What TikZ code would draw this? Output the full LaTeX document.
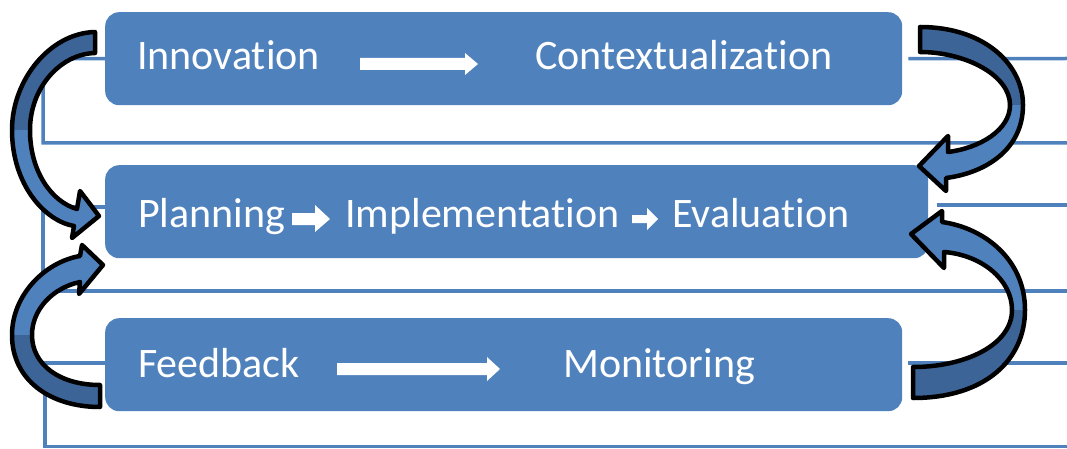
\documentclass[tikz,border=0pt]{standalone}
\usepackage{fontspec}
\setmainfont[Ligatures=NoCommon]{Carlito}
\usetikzlibrary{backgrounds}
\definecolor{obl}{RGB}{79,129,189}
\definecolor{obd}{RGB}{60,100,150}
\begin{document}
\begin{tikzpicture}[x=1pt,y=-1pt,
  box/.style={fill=obl, rounded corners=14pt, minimum height=93pt, inner sep=0pt, anchor=north west},
  lbl/.style={text=white, font=\fontsize{42}{48}\selectfont, inner sep=0pt, anchor=base west},
  rule/.style={draw=obl, line width=3.5pt},
  curv/.style={draw=black, line width=4.5pt, line join=round},
  warr/.style={fill=white}]
\useasboundingbox (0,0) rectangle (1067,449);

% boxes
\node[box, minimum width=797pt] (b1) at (105,12) {};
\node[box, minimum width=823pt] (b2) at (105,165) {};
\node[box, minimum width=797pt] (b3) at (105,318) {};

% bracket lines behind boxes
\begin{pgfonlayer}{background}
\coordinate (l1) at (43,58.5);
\coordinate (e1) at (1067,143);
\coordinate (r1) at (1067,58.5);
\draw[rule] (b1.west) -- (l1) |- (e1);
\draw[rule] (b1.east) ++(6,0) -- (r1);
\coordinate (s2) at (105,207);
\coordinate (l2) at (43,207);
\coordinate (e2) at (1067,291);
\coordinate (q2) at (937,205);
\coordinate (r2) at (1067,205);
\draw[rule] (s2) -- (l2) |- (e2);
\draw[rule] (q2) -- (r2);
\coordinate (s3) at (105,363);
\coordinate (l3) at (45,363);
\coordinate (e3) at (1067,446.5);
\coordinate (q3) at (908,363);
\coordinate (r3) at (1067,363);
\draw[rule] (s3) -- (l3) |- (e3);
\draw[rule] (q3) -- (r3);
\end{pgfonlayer}

% labels
\node[lbl] (inn) at (137,70) {Innovation};
\node[lbl] (con) at (535,70) {Contextualization};
\node[lbl] (pla) at (138,227) {Planning};
\node[lbl] (imp) at (345,227) {Implementation};
\node[lbl] (eva) at (672,227) {Evaluation};
\node[lbl] (fee) at (138,377) {Feedback};
\node[lbl] (mon) at (563,377) {Monitoring};

% white arrows inside boxes
\fill[warr] (360,58) -- (465,58) -- (465,53) -- (478,64) -- (465,75) -- (465,70) -- (360,70) -- cycle;
\fill[warr] (337,363) -- (487,363) -- (487,357) -- (500,369) -- (487,381) -- (487,375) -- (337,375) -- cycle;
\fill[warr] (292,213) -- (315,213) -- (315,205) -- (330,219) -- (315,232) -- (315,225) -- (292,225) -- cycle;
\fill[warr] (632,215) -- (647,215) -- (647,208) -- (658,219) -- (647,230) -- (647,223) -- (632,223) -- cycle;

% curved arrows
\def\pathA{(95,32) .. controls (50,33) and (12,80) .. (12,130) .. controls (12,185) and (45,221) .. (74,226) -- (72,238) -- (99,216) -- (80,191) -- (77,209) .. controls (52,202) and (30,172) .. (30,130) .. controls (30,88) and (60,54) .. (95,53) -- cycle}
\def\darkA{(95,32) .. controls (50,33) and (12,80) .. (12,130) -- (30,130) .. controls (30,88) and (60,54) .. (95,53) -- cycle}
\def\pathB{(100,407) .. controls (50,407) and (12,380) .. (12,335) .. controls (12,295) and (45,262) .. (80,256) -- (82,245) -- (103,265) -- (79,294) -- (80,282) .. controls (52,288) and (32,310) .. (32,335) .. controls (32,365) and (60,385) .. (100,385) -- cycle}
\def\darkB{(100,407) .. controls (50,407) and (12,380) .. (12,335) -- (32,335) .. controls (32,365) and (60,385) .. (100,385) -- cycle}
\def\pathC{(920,27) .. controls (985,27) and (1023,65) .. (1023,105) .. controls (1023,150) and (985,173) .. (946,178) -- (946,191) -- (919,166) -- (948,136) -- (948,152) .. controls (980,148) and (1010,130) .. (1010,105) .. controls (1010,75) and (965,52) .. (920,52) -- cycle}
\def\darkC{(920,27) .. controls (985,27) and (1023,65) .. (1023,105) -- (1010,105) .. controls (1010,75) and (965,52) .. (920,52) -- cycle}
\def\pathD{(913,398) .. controls (985,398) and (1025,360) .. (1025,310) .. controls (1025,260) and (985,228) .. (942,222) -- (942,211) -- (911,234) -- (944,268) -- (944,252) .. controls (982,255) and (1012,280) .. (1012,310) .. controls (1012,345) and (965,367) .. (913,367) -- cycle}
\def\darkD{(913,398) .. controls (985,398) and (1025,360) .. (1025,310) -- (1012,310) .. controls (1012,345) and (965,367) .. (913,367) -- cycle}

\fill[obl] \pathA; \fill[obd] \darkA; \draw[curv] \pathA;
\fill[obl] \pathB; \fill[obd] \darkB; \draw[curv] \pathB;
\fill[obl] \pathC; \fill[obd] \darkC; \draw[curv] \pathC;
\fill[obl] \pathD; \fill[obd] \darkD; \draw[curv] \pathD;
\end{tikzpicture}
\end{document}
